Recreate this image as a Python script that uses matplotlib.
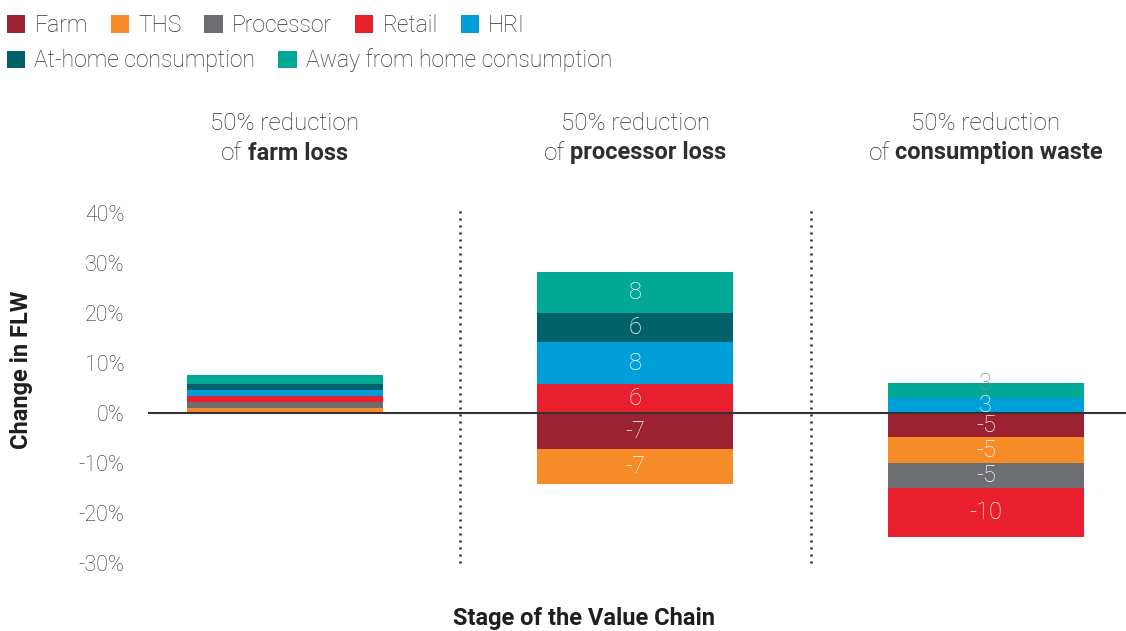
"""
Change in food loss and waste (FLW) by value-chain stage
for three 50% reduction scenarios - stacked bars above/below zero
"""

import matplotlib
matplotlib.use('Agg')
import matplotlib.pyplot as plt
import matplotlib.patches as mpatches
import matplotlib.transforms as mtransforms
from matplotlib.offsetbox import TextArea, HPacker, AnnotationBbox
import numpy as np

plt.rcParams['font.family'] = ['Roboto', 'DejaVu Sans']

# Stages of the chain (series) and their colours
STAGES = ['Farm', 'THS', 'Processor', 'Retail', 'HRI',
          'At-home consumption', 'Away from home consumption']
STAGE_COLORS = ['#9B2230', '#F58C28', '#6D6E71', '#EA1F2D', '#009FDA',
                '#00616A', '#00A895']

# Scenarios (categories)
TITLE_TOP = ['50% reduction', '50% reduction', '50% reduction']
TITLE_BOLD = ['farm loss', 'processor loss', 'consumption waste']
SHOW_LABELS = [False, True, True]

# Change in FLW (%) per stage, one list per scenario
farm_loss = [-0.2, 1.0, 1.2, 1.2, 1.2, 1.2, 1.8]
processor_loss = [-7.3, -7.0, 0.0, 5.8, 8.3, 5.8, 8.2]
consumption_waste = [-4.9, -5.1, -5.1, -9.7, 3.0, 0.0, 2.9]

Y_TICKS = [-30, -20, -10, 0, 10, 20, 30, 40]

TEXT_COLOR = '#2E2E2E'


def main():
    values = np.array([farm_loss, processor_loss, consumption_waste])
    n_scen = values.shape[0]
    x_pos = np.arange(n_scen)
    bar_width = 0.56

    fig = plt.figure(figsize=(11.26, 6.31), dpi=100)
    ax = fig.add_axes([0.1314, 0.1078, 0.8686, 0.5547])

    pos_base = np.zeros(n_scen)
    neg_base = np.zeros(n_scen)
    for s, (name, color) in enumerate(zip(STAGES, STAGE_COLORS)):
        vals = values[:, s]
        bottoms = np.where(vals >= 0, pos_base, neg_base)
        ax.bar(x_pos, vals, bottom=bottoms, width=bar_width, color=color,
               linewidth=0, zorder=2)
        for i, (v, b) in enumerate(zip(vals, bottoms)):
            if not SHOW_LABELS[i] or v == 0:
                continue
            if abs(v) < 2.95:
                # too thin: label sits on the top edge in grey
                ax.text(i, b + v, f'{v:.0f}', ha='center', va='center',
                        fontsize=17, color='#8A8A8A', fontweight='light',
                        zorder=4)
            else:
                ax.text(i, b + v / 2, f'{v:.0f}', ha='center', va='center',
                        fontsize=17, color='white', fontweight='light',
                        zorder=4)
        pos_base += np.where(vals > 0, vals, 0)
        neg_base += np.where(vals < 0, vals, 0)

    ax.axhline(0, color='#333333', linewidth=1.5, zorder=3)
    for xv in [0.5, 1.5]:
        ax.axvline(xv, color='#222222', linewidth=1.8,
                   linestyle=(0, (0.8, 2.0)), ymin=0.0, ymax=1.01,
                   clip_on=False)

    ax.set_xlim(-0.39, 2.4)
    ax.set_ylim(-30, 40)
    ax.set_yticks(Y_TICKS)
    ax.set_yticklabels([f'{t}%' for t in Y_TICKS], fontsize=15.5,
                       color=TEXT_COLOR, fontweight='light')
    ax.set_xticks([])
    ax.tick_params(axis='y', length=0, pad=17)
    for sp in ax.spines.values():
        sp.set_visible(False)

    # scenario titles, second line mixes normal and bold text
    trans = mtransforms.blended_transform_factory(ax.transData, fig.transFigure)
    for i in range(n_scen):
        ax.text(i, 1 - 124 / 631, TITLE_TOP[i], transform=trans,
                ha='center', va='center', fontsize=17.5, color=TEXT_COLOR,
                fontweight='light')
        box = HPacker(children=[
            TextArea('of', textprops=dict(fontsize=17.5, color=TEXT_COLOR,
                                          fontweight='light')),
            TextArea(TITLE_BOLD[i], textprops=dict(fontsize=17, color=TEXT_COLOR,
                                                   fontweight='bold')),
        ], pad=0, sep=4, align='baseline')
        ab = AnnotationBbox(box, (i, 1 - 153 / 631), xycoords=trans,
                            frameon=False, box_alignment=(0.5, 0.5),
                            annotation_clip=False)
        ax.add_artist(ab)

    fig.text(0.0195, 1 - 370 / 631, 'Change in FLW', rotation=90,
             ha='center', va='center', fontsize=17, fontweight='bold',
             color='#1E1E1E')
    fig.text(584 / 1126, 1 - 618 / 631, 'Stage of the Value Chain',
             ha='center', va='center', fontsize=17, fontweight='bold',
             color='#1E1E1E')

    handles = [mpatches.Patch(facecolor=c, edgecolor='none', label=n)
               for n, c in zip(STAGES, STAGE_COLORS)]
    leg_kw = dict(frameon=False, handlelength=0.8, handleheight=0.8,
                  handletextpad=0.4, columnspacing=1.0,
                  borderaxespad=0, borderpad=0,
                  prop=dict(size=16.5, weight='light'),
                  labelcolor=TEXT_COLOR)
    fig.legend(handles=handles[:5], ncol=5, loc='upper left',
               bbox_to_anchor=(0.006, 0.978), **leg_kw)
    fig.legend(handles=handles[5:], ncol=2, loc='upper left',
               bbox_to_anchor=(0.006, 0.923), **leg_kw)

    fig.savefig('out.png', dpi=100, facecolor='white')
    plt.close(fig)


if __name__ == '__main__':
    main()
